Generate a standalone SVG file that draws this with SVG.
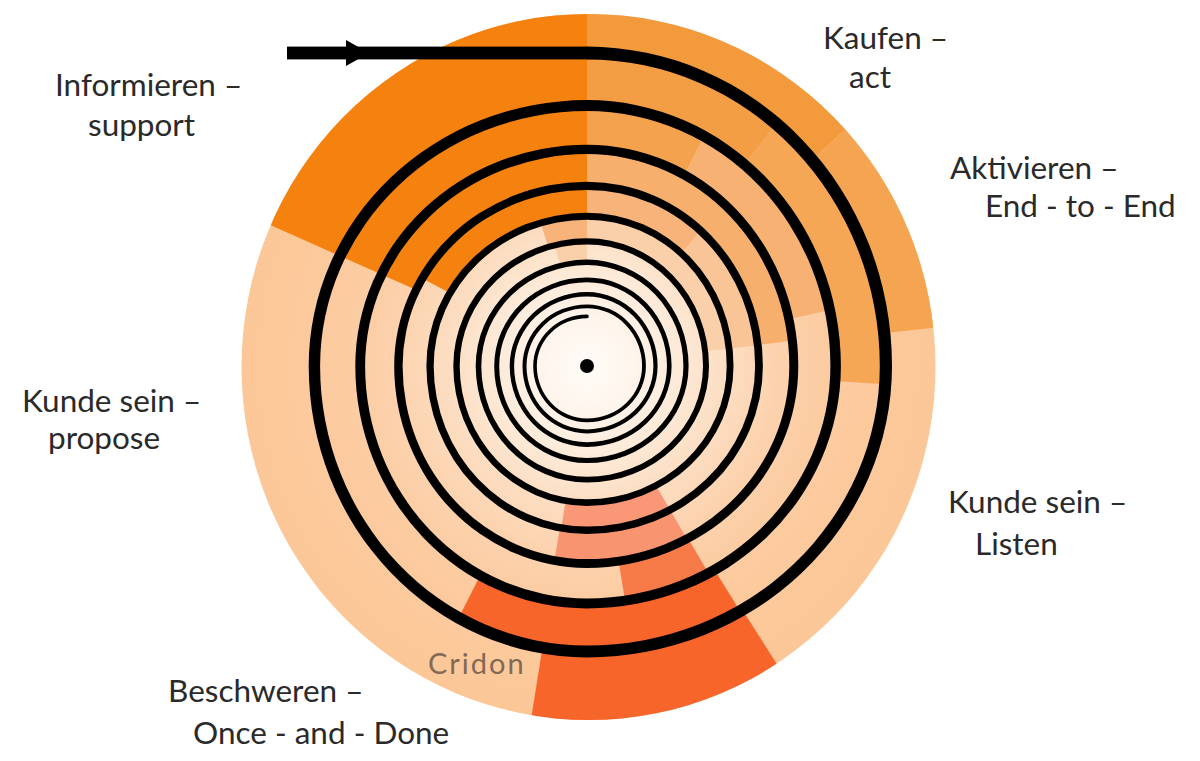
<svg xmlns="http://www.w3.org/2000/svg" width="1200" height="761" viewBox="0 0 1200 761">
<style>
.lbl{font-family:Lato,"Liberation Sans",sans-serif;font-size:31.5px;fill:#2a2a2a}
.cridon{font-family:Lato,"Liberation Sans",sans-serif;font-size:29px;letter-spacing:2px;fill:#7f6a55}
.blk{fill:#000}
</style>
<defs>
<radialGradient id="base" gradientUnits="userSpaceOnUse" cx="587" cy="366" r="350">
<stop offset="0" stop-color="#fffcf8"/>
<stop offset="0.12" stop-color="#fef6ee"/>
<stop offset="0.25" stop-color="#fdebda"/>
<stop offset="0.4" stop-color="#fcddc1"/>
<stop offset="0.55" stop-color="#fcd2ad"/>
<stop offset="0.7" stop-color="#fccba0"/>
<stop offset="1" stop-color="#fcc797"/>
</radialGradient>
<clipPath id="b0"><path clip-rule="evenodd" d="M241.5 367 A347 353 0 1 1 935.5 367 A347 353 0 1 1 241.5 367 Z M587 53 A298.9 313 0 0 1 885.9 366 A298.9 285.5 0 0 1 587 651.5 A272.6 285.5 0 0 1 314.4 366 A272.6 260.4 0 0 1 587 105.6 Z"/></clipPath>
<clipPath id="b1"><path clip-rule="evenodd" d="M587 53 A298.9 313 0 0 1 885.9 366 A298.9 285.5 0 0 1 587 651.5 A272.6 285.5 0 0 1 314.4 366 A272.6 260.4 0 0 1 587 105.6 Z M587 105.6 A248.6 260.4 0 0 1 835.6 366 A248.6 237.4 0 0 1 587 603.4 A226.8 237.4 0 0 1 360.2 366 A226.8 216.6 0 0 1 587 149.4 Z"/></clipPath>
<clipPath id="b2"><path clip-rule="evenodd" d="M587 105.6 A248.6 260.4 0 0 1 835.6 366 A248.6 237.4 0 0 1 587 603.4 A226.8 237.4 0 0 1 360.2 366 A226.8 216.6 0 0 1 587 149.4 Z M587 149.4 A206.8 216.6 0 0 1 793.8 366 A206.8 197.5 0 0 1 587 563.5 A188.6 197.5 0 0 1 398.4 366 A188.6 180.1 0 0 1 587 185.9 Z"/></clipPath>
<clipPath id="b3"><path clip-rule="evenodd" d="M587 149.4 A206.8 216.6 0 0 1 793.8 366 A206.8 197.5 0 0 1 587 563.5 A188.6 197.5 0 0 1 398.4 366 A188.6 180.1 0 0 1 587 185.9 Z M587 185.9 A172 180.1 0 0 1 759 366 A172 164.3 0 0 1 587 530.3 A156.9 164.3 0 0 1 430.1 366 A156.9 149.8 0 0 1 587 216.2 Z"/></clipPath>
<clipPath id="b4"><path clip-rule="evenodd" d="M587 185.9 A172 180.1 0 0 1 759 366 A172 164.3 0 0 1 587 530.3 A156.9 164.3 0 0 1 430.1 366 A156.9 149.8 0 0 1 587 216.2 Z M587 216.2 A143.1 149.8 0 0 1 730.1 366 A143.1 136.6 0 0 1 587 502.6 A130.5 136.6 0 0 1 456.5 366 A130.5 124.6 0 0 1 587 241.4 Z"/></clipPath>
<clipPath id="b5"><path clip-rule="evenodd" d="M587 216.2 A143.1 149.8 0 0 1 730.1 366 A143.1 136.6 0 0 1 587 502.6 A130.5 136.6 0 0 1 456.5 366 A130.5 124.6 0 0 1 587 241.4 Z M587 241.4 A119 124.6 0 0 1 706 366 A119 113.7 0 0 1 587 479.7 A108.5 113.7 0 0 1 478.5 366 A108.5 103.7 0 0 1 587 262.3 Z"/></clipPath>
</defs>
<rect width="1200" height="761" fill="#ffffff"/>
<g id="disk">
<ellipse cx="588.5" cy="367" rx="347" ry="353" fill="url(#base)"/>
</g>
<g id="cells">
<g clip-path="url(#b0)">
<path d="M587 366 L203.3 195.2 A420 420 0 0 1 587 -54 Z" fill="#f5820f"/>
<path d="M587 366 L587 -54 A420 420 0 0 1 896.7 82.2 Z" fill="#f39a3d"/>
<path d="M587 366 L896.7 82.2 A420 420 0 0 1 1004.5 319.9 Z" fill="#f5a552"/>
<path d="M587 366 L812.7 720.2 A420 420 0 0 1 521.3 780.8 Z" fill="#f7652b"/>
</g>
<g clip-path="url(#b1)">
<path d="M587 366 L203.3 195.2 A420 420 0 0 1 587 -54 Z" fill="#f5820f"/>
<path d="M587 366 L587 -54 A420 420 0 0 1 845.6 35 Z" fill="#f39d44"/>
<path d="M587 366 L845.6 35 A420 420 0 0 1 1006.2 391.6 Z" fill="#f6a756"/>
<path d="M587 366 L809.6 722.2 A420 420 0 0 1 396.3 740.2 Z" fill="#f7652b"/>
</g>
<g clip-path="url(#b2)">
<path d="M587 366 L203.3 195.2 A420 420 0 0 1 587 -54 Z" fill="#f5820f"/>
<path d="M587 366 L587 -54 A420 420 0 0 1 777.7 -8.2 Z" fill="#f4a24e"/>
<path d="M587 366 L777.7 -8.2 A420 420 0 0 1 996.2 271.5 Z" fill="#f7b273"/>
<path d="M587 366 L799.5 728.3 A420 420 0 0 1 654.2 780.6 Z" fill="#f77b48"/>
</g>
<g clip-path="url(#b3)">
<path d="M587 366 L216.2 168.8 A420 420 0 0 1 587 -54 Z" fill="#f5820f"/>
<path d="M587 366 L587 -54 A420 420 0 0 1 1003.9 314.8 Z" fill="#f6af6c"/>
<path d="M587 366 L797 729.7 A420 420 0 0 1 517.7 780.2 Z" fill="#f99470"/>
</g>
<g clip-path="url(#b4)">
<path d="M587 366 L457.2 -33.5 A420 420 0 0 1 857 44.3 Z" fill="#f7b37a"/>
<path d="M587 366 L857 44.3 A420 420 0 0 1 1003.9 314.8 Z" fill="#f9c597"/>
<path d="M587 366 L797 729.7 A420 420 0 0 1 521.3 780.8 Z" fill="#f99777"/>
</g>
<g clip-path="url(#b5)">
<path d="M587 366 L478.3 -39.7 A420 420 0 0 1 1003.9 314.8 Z" fill="#fad0aa"/>
</g>
</g>
<g id="spiral">
<rect class="blk" x="287" y="46.6" width="301" height="12.8"/>
<polygon class="blk" points="346,40 369,53 346,66"/>
<path class="blk" d="M587 46.6 A305 319.4 0 0 1 892 366 A305 291.4 0 0 1 587 657.4 A278.3 291.4 0 0 1 308.7 366 A278.3 265.9 0 0 1 587 100.1 A253.9 265.9 0 0 1 840.9 366 A253.9 242.5 0 0 1 587 608.5 A231.7 242.5 0 0 1 355.3 366 A231.7 221.3 0 0 1 587 144.7 A211.3 221.3 0 0 1 798.3 366 A211.3 201.9 0 0 1 587 567.9 A192.8 201.9 0 0 1 394.2 366 A192.8 184.2 0 0 1 587 181.8 A175.9 184.2 0 0 1 762.9 366 A175.9 168.1 0 0 1 587 534.1 A160.6 168.1 0 0 1 426.4 366 A160.6 153.3 0 0 1 587 212.7 A146.5 153.3 0 0 1 733.5 366 A146.5 139.9 0 0 1 587 505.9 A133.7 139.9 0 0 1 453.3 366 A133.7 127.7 0 0 1 587 238.3 A122 127.7 0 0 1 709 366 A122 116.6 0 0 1 587 482.6 A111.3 116.6 0 0 1 475.7 366 A111.3 106.4 0 0 1 587 259.6 A101.6 106.4 0 0 1 688.6 366 A101.6 97.1 0 0 1 587 463.1 A92.8 97.1 0 0 1 494.2 366 A92.8 88.6 0 0 1 587 277.4 A84.6 88.6 0 0 1 671.6 366 A84.6 80.9 0 0 1 587 446.9 A77.3 80.9 0 0 1 509.7 366 A77.3 73.9 0 0 1 587 292.1 A70.6 73.9 0 0 1 657.6 366 A70.6 67.4 0 0 1 587 433.4 A64.5 67.4 0 0 1 522.5 366 A64.5 61.6 0 0 1 587 304.4 A58.9 61.6 0 0 1 645.9 366 A58.9 56.3 0 0 1 587 422.3 A53.8 56.3 0 0 1 533.2 366 A53.8 51.4 0 0 1 587 314.6 A1.8 1.8 0 0 1 587 318.2 A50.2 47.8 0 0 0 536.8 366 A50.2 52.6 0 0 0 587 418.6 A55.1 52.6 0 0 0 642.1 366 A55.1 57.8 0 0 0 587 308.2 A60.5 57.8 0 0 0 526.5 366 A60.5 63.4 0 0 0 587 429.4 A66.4 63.4 0 0 0 653.4 366 A66.4 69.5 0 0 0 587 296.5 A72.9 69.5 0 0 0 514.1 366 A72.9 76.3 0 0 0 587 442.3 A80 76.3 0 0 0 667 366 A80 83.8 0 0 0 587 282.2 A87.8 83.8 0 0 0 499.2 366 A87.8 92 0 0 0 587 458 A96.4 92 0 0 0 683.4 366 A96.4 101 0 0 0 587 265 A105.7 101 0 0 0 481.3 366 A105.7 110.8 0 0 0 587 476.8 A116 110.8 0 0 0 703 366 A116 121.5 0 0 0 587 244.5 A127.3 121.5 0 0 0 459.7 366 A127.3 133.3 0 0 0 587 499.3 A139.7 133.3 0 0 0 726.7 366 A139.7 146.3 0 0 0 587 219.7 A153.3 146.3 0 0 0 433.7 366 A153.3 160.5 0 0 0 587 526.5 A168.1 160.5 0 0 0 755.1 366 A168.1 176.1 0 0 0 587 189.9 A184.4 176.1 0 0 0 402.6 366 A184.4 193.1 0 0 0 587 559.1 A202.3 193.1 0 0 0 789.3 366 A202.3 211.9 0 0 0 587 154.1 A221.9 211.9 0 0 0 365.1 366 A221.9 232.4 0 0 0 587 598.4 A243.4 232.4 0 0 0 830.4 366 A243.4 254.9 0 0 0 587 111.1 A266.9 254.9 0 0 0 320.1 366 A266.9 279.6 0 0 0 587 645.6 A292.8 279.6 0 0 0 879.8 366 A292.8 306.6 0 0 0 587 59.4 Z"/>
<circle class="blk" cx="587" cy="366" r="7"/>
</g>
<g id="label-informieren"><text class="lbl" x="55" y="96">Informieren –</text><text class="lbl" x="88" y="136">support</text></g>
<g id="label-kaufen"><text class="lbl" x="823" y="49">Kaufen –</text><text class="lbl" x="849" y="88">act</text></g>
<g id="label-aktivieren"><text class="lbl" x="950" y="179">Aktivieren –</text><text class="lbl" x="985" y="217">End - to - End</text></g>
<g id="label-kunde-propose"><text class="lbl" x="22" y="412">Kunde sein –</text><text class="lbl" x="48" y="449">propose</text></g>
<g id="label-kunde-listen"><text class="lbl" x="948" y="513">Kunde sein –</text><text class="lbl" x="975" y="555">Listen</text></g>
<g id="label-beschweren"><text class="lbl" x="168" y="702">Beschweren –</text><text class="lbl" x="193" y="744">Once - and - Done</text></g>
<g id="label-cridon"><text class="cridon" x="428" y="674">Cridon</text></g>
</svg>
